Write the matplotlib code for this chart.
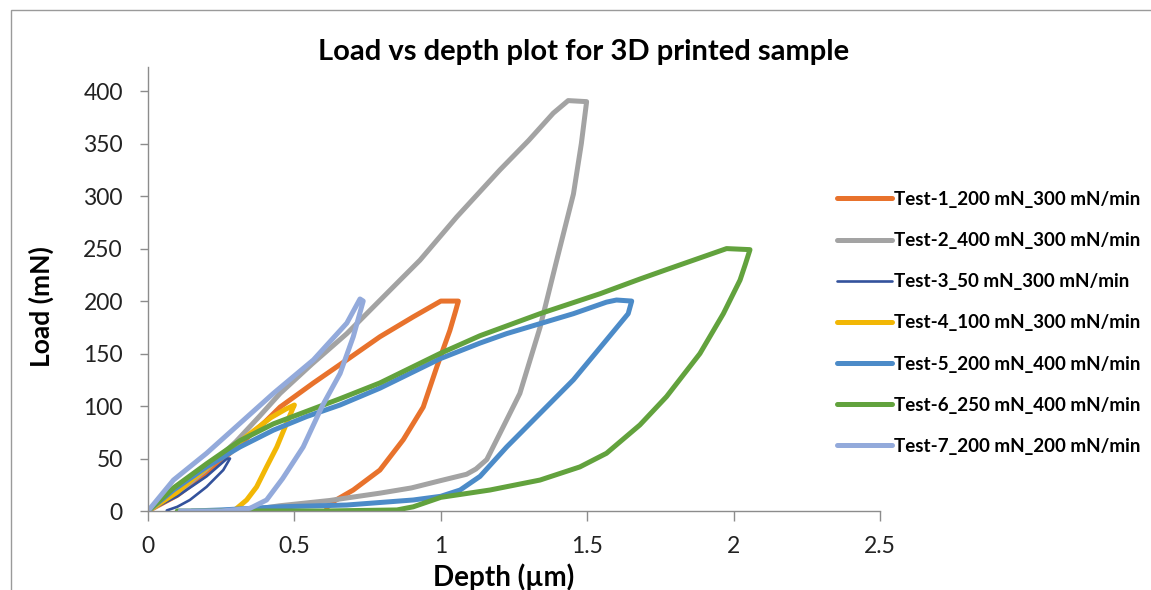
import matplotlib
matplotlib.use("Agg")
import matplotlib.pyplot as plt
from matplotlib.patches import Rectangle

plt.rcParams["font.family"] = ["Lato", "DejaVu Sans"]

# Test-1: 200 mN, 300 mN/min
depth1 = [0, 0.1, 0.2, 0.3, 0.4, 0.451, 0.565, 0.679, 0.792, 0.906, 1.0, 1.06,
          1.05, 1.031, 0.986, 0.940, 0.872, 0.792, 0.701, 0.633, 0.61]
load1 = [0, 15, 36, 60, 85, 99, 122, 144, 166, 185, 200, 200,
         190, 172, 137, 99, 68, 39, 20, 9, 3]

# Test-2: 400 mN, 300 mN/min
depth2 = [0, 0.1, 0.2, 0.3, 0.38, 0.451, 0.56, 0.679, 0.861, 0.929, 1.054, 1.202,
          1.30, 1.384, 1.435, 1.498, 1.48, 1.453, 1.396, 1.339, 1.270, 1.202,
          1.157, 1.12, 1.088, 1.0, 0.90, 0.792, 0.62, 0.45, 0.35]
load2 = [0, 17, 40, 66, 90, 112, 140, 169, 220, 239, 280, 325,
         353, 379, 391, 390, 350, 302, 239, 175, 112, 74,
         49, 40, 35, 29, 22, 17, 10, 5, 1]

# Test-3: 50 mN, 300 mN/min
depth3 = [0, 0.1, 0.2, 0.27, 0.28, 0.257, 0.2, 0.143, 0.1, 0.064]
load3 = [0, 14, 33, 50, 50, 39, 23, 10.5, 4, 0.5]

# Test-4: 100 mN, 300 mN/min
depth4 = [0, 0.1, 0.15, 0.25, 0.35, 0.42, 0.47, 0.50, 0.495, 0.474, 0.44,
          0.405, 0.371, 0.337, 0.303, 0.29]
load4 = [0, 18, 30, 52, 74, 89, 97, 101, 98, 84, 61, 42, 23, 10.5, 2.5, 0]

# Test-5: 200 mN, 400 mN/min
depth5 = [0, 0.087, 0.2, 0.314, 0.428, 0.542, 0.656, 0.792, 0.997, 1.134, 1.225,
          1.453, 1.566, 1.60, 1.652, 1.64, 1.566, 1.453, 1.339, 1.225, 1.134,
          1.066, 1.0, 0.906, 0.679, 0.45, 0.25, 0.15]
load5 = [0, 20, 42, 61, 77, 90, 101, 117, 145, 160, 169,
         188, 199, 201, 200, 188, 163, 125, 93, 61, 33,
         20, 14, 10.5, 5.7, 4, 1, 0]

# Test-6: 250 mN, 400 mN/min
depth6 = [0, 0.087, 0.2, 0.314, 0.428, 0.542, 0.656, 0.792, 0.997, 1.134, 1.339,
          1.544, 1.68, 1.771, 1.976, 2.056, 2.04, 2.022, 1.965, 1.885, 1.771,
          1.68, 1.566, 1.475, 1.339, 1.168, 1.0, 0.906, 0.85, 0.6, 0.3, 0.1]
load6 = [0, 22, 45, 67, 83, 95, 107, 122, 150, 167, 188,
         207, 221, 230, 250, 249, 235, 220, 188, 150, 109,
         82, 55, 42, 29.5, 20, 13, 4, 1, 0, 0, 0]

# Test-7: 200 mN, 200 mN/min
depth7 = [0, 0.087, 0.2, 0.314, 0.428, 0.565, 0.679, 0.724, 0.735, 0.701,
          0.656, 0.595, 0.53, 0.46, 0.405, 0.348, 0.25, 0.11]
load7 = [0, 29.5, 55, 83.5, 112, 144, 179, 202, 200, 166,
         131, 100, 61, 31, 10.5, 2.5, 0, 0]

labels = ["Test-1_200 mN_300 mN/min", "Test-2_400 mN_300 mN/min",
          "Test-3_50 mN_300 mN/min", "Test-4_100 mN_300 mN/min",
          "Test-5_200 mN_400 mN/min", "Test-6_250 mN_400 mN/min",
          "Test-7_200 mN_200 mN/min"]
colors = ["#E8722C", "#A3A3A3", "#33529C", "#F2B705",
          "#4C8BC8", "#62A23D", "#93AADB"]
widths = [3.6, 3.6, 1.9, 3.6, 3.6, 3.6, 3.6]
series = [(depth1, load1), (depth2, load2), (depth3, load3), (depth4, load4),
          (depth5, load5), (depth6, load6), (depth7, load7)]

W, H = 1151, 590
fig = plt.figure(figsize=(W / 100, H / 100), dpi=100)
ax = fig.add_axes([148 / W, 1 - 511 / H, 732 / W, 444 / H])

for (d, l), lab, c, w in zip(series, labels, colors, widths):
    ax.plot(d, l, color=c, lw=w, label=lab,
            solid_capstyle="round", solid_joinstyle="round")

ax.set_xlim(0, 2.5)
ax.set_ylim(0, 423)
ax.set_xticks([0, 0.5, 1, 1.5, 2, 2.5])
ax.set_xticklabels(["0", "0.5", "1", "1.5", "2", "2.5"])
ax.set_yticks(range(0, 401, 50))
for side in ("top", "right"):
    ax.spines[side].set_visible(False)
for side in ("left", "bottom"):
    ax.spines[side].set_color("#8C8C8C")
    ax.spines[side].set_linewidth(1.0)
ax.tick_params(axis="both", colors="#8C8C8C", width=1.0,
               labelcolor="#222222", labelsize=16.5)
ax.tick_params(axis="x", length=7, pad=11)
ax.tick_params(axis="y", length=6, pad=12)

fig.text(504 / W, 1 - 577 / H, "Depth (\u00b5m)", ha="center", va="center",
         fontsize=20, fontweight="bold")
fig.text(41 / W, 1 - 307 / H, "Load (mN)", ha="center", va="center",
         rotation=90, fontsize=19, fontweight="bold")
fig.text(584 / W, 1 - 52 / H, "Load vs depth plot for 3D printed sample",
         ha="center", va="center", fontsize=21, fontweight="bold")

ax.legend(loc="upper left", bbox_to_anchor=(820 / W, 1 - 174 / H),
          bbox_transform=fig.transFigure, frameon=False,
          prop={"size": 13.5, "weight": "bold"}, handlelength=2.95,
          handletextpad=0.1, labelspacing=1.29)

fig.add_artist(Rectangle((11 / W, -0.05), 1.2, 1.05 - 10 / H,
                         transform=fig.transFigure, fill=False,
                         edgecolor="#9A9A9A", lw=1.0))

fig.savefig("out.png", dpi=100)
